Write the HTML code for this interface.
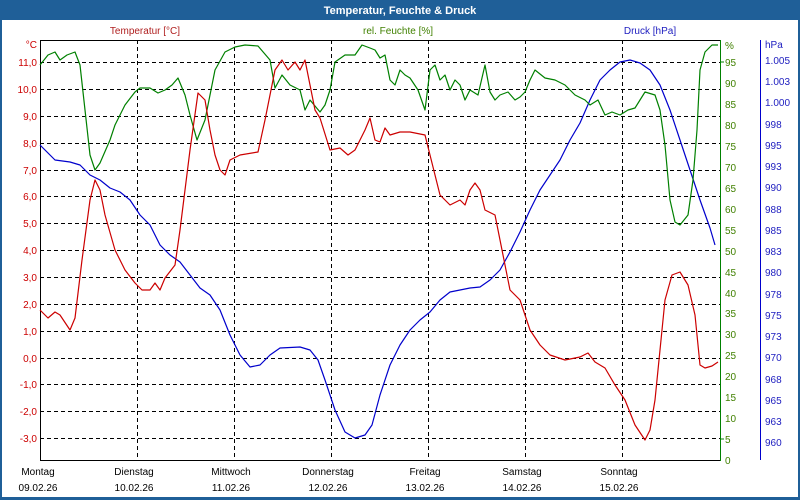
<!DOCTYPE html>
<html><head><meta charset="utf-8"><style>
html,body{margin:0;padding:0;background:#fff}
svg{display:block;font-family:"Liberation Sans","DejaVu Sans",sans-serif}
</style></head><body>
<svg width="800" height="500" viewBox="0 0 800 500" xmlns="http://www.w3.org/2000/svg">
<rect x="0" y="0" width="800" height="500" fill="#1f5f98"/>
<rect x="2" y="20" width="796" height="477" fill="#fff"/>
<text x="400" y="14" fill="#fff" font-size="11" font-weight="bold" text-anchor="middle">Temperatur, Feuchte &amp; Druck</text>
<text x="145" y="34" fill="#b02020" font-size="10" text-anchor="middle">Temperatur [°C]</text>
<text x="398" y="34" fill="#408000" font-size="10" text-anchor="middle">rel. Feuchte [%]</text>
<text x="650" y="34" fill="#2020c0" font-size="10" text-anchor="middle">Druck [hPa]</text>
<g stroke="#000" stroke-width="1" stroke-dasharray="4,3" fill="none">
<line x1="40" x2="720" y1="62.5" y2="62.5"/><line x1="40" x2="720" y1="89.5" y2="89.5"/><line x1="40" x2="720" y1="116.5" y2="116.5"/><line x1="40" x2="720" y1="143.5" y2="143.5"/><line x1="40" x2="720" y1="170.5" y2="170.5"/><line x1="40" x2="720" y1="196.5" y2="196.5"/><line x1="40" x2="720" y1="223.5" y2="223.5"/><line x1="40" x2="720" y1="250.5" y2="250.5"/><line x1="40" x2="720" y1="277.5" y2="277.5"/><line x1="40" x2="720" y1="304.5" y2="304.5"/><line x1="40" x2="720" y1="331.5" y2="331.5"/><line x1="40" x2="720" y1="358.5" y2="358.5"/><line x1="40" x2="720" y1="384.5" y2="384.5"/><line x1="40" x2="720" y1="411.5" y2="411.5"/><line x1="40" x2="720" y1="438.5" y2="438.5"/>
<line y1="40" y2="460" x1="137.5" x2="137.5"/><line y1="40" y2="460" x1="234.5" x2="234.5"/><line y1="40" y2="460" x1="331.5" x2="331.5"/><line y1="40" y2="460" x1="428.5" x2="428.5"/><line y1="40" y2="460" x1="525.5" x2="525.5"/><line y1="40" y2="460" x1="622.5" x2="622.5"/>
</g>
<g stroke="#000" stroke-width="1">
<line x1="40.5" y1="40" x2="40.5" y2="460"/><line x1="40" y1="40.5" x2="720" y2="40.5"/><line x1="40" y1="460.5" x2="720" y2="460.5"/>
</g>
<line x1="720.5" y1="40" x2="720.5" y2="461" stroke="#008000"/>
<line x1="760.5" y1="40" x2="760.5" y2="460" stroke="#0000cc"/>
<g fill="#cc0000" font-size="10" text-anchor="end">
<text x="37" y="48">°C</text>
<text x="37" y="66">11,0</text><text x="37" y="93">10,0</text><text x="37" y="120">9,0</text><text x="37" y="147">8,0</text><text x="37" y="174">7,0</text><text x="37" y="200">6,0</text><text x="37" y="227">5,0</text><text x="37" y="254">4,0</text><text x="37" y="281">3,0</text><text x="37" y="308">2,0</text><text x="37" y="335">1,0</text><text x="37" y="362">0,0</text><text x="37" y="388">-1,0</text><text x="37" y="415">-2,0</text><text x="37" y="442">-3,0</text>
</g>
<g fill="#408000" font-size="10">
<text x="725" y="49">%</text>
<text x="725" y="66">95</text><text x="725" y="87">90</text><text x="725" y="108">85</text><text x="725" y="129">80</text><text x="725" y="150">75</text><text x="725" y="171">70</text><text x="725" y="192">65</text><text x="725" y="213">60</text><text x="725" y="234">55</text><text x="725" y="255">50</text><text x="725" y="276">45</text><text x="725" y="297">40</text><text x="725" y="317">35</text><text x="725" y="338">30</text><text x="725" y="359">25</text><text x="725" y="380">20</text><text x="725" y="401">15</text><text x="725" y="422">10</text><text x="725" y="443">5</text><text x="725" y="464">0</text>
</g>
<g stroke="#008000"><line x1="720" x2="724" y1="62" y2="62"/><line x1="720" x2="724" y1="439" y2="439"/></g>
<g fill="#2020c0" font-size="10">
<text x="765" y="48">hPa</text>
<text x="765" y="64">1.005</text><text x="765" y="85">1.003</text><text x="765" y="106">1.000</text><text x="765" y="128">998</text><text x="765" y="149">995</text><text x="765" y="170">993</text><text x="765" y="191">990</text><text x="765" y="213">988</text><text x="765" y="234">985</text><text x="765" y="255">983</text><text x="765" y="276">980</text><text x="765" y="298">978</text><text x="765" y="319">975</text><text x="765" y="340">973</text><text x="765" y="361">970</text><text x="765" y="383">968</text><text x="765" y="404">965</text><text x="765" y="425">963</text><text x="765" y="446">960</text>
</g>
<g fill="#000" font-size="10" text-anchor="middle">
<text x="38" y="475">Montag</text><text x="38" y="491">09.02.26</text>
<text x="134" y="475">Dienstag</text><text x="134" y="491">10.02.26</text>
<text x="231" y="475">Mittwoch</text><text x="231" y="491">11.02.26</text>
<text x="328" y="475">Donnerstag</text><text x="328" y="491">12.02.26</text>
<text x="425" y="475">Freitag</text><text x="425" y="491">13.02.26</text>
<text x="522" y="475">Samstag</text><text x="522" y="491">14.02.26</text>
<text x="619" y="475">Sonntag</text><text x="619" y="491">15.02.26</text>
</g>
<g fill="none" stroke-width="1.2" stroke-linejoin="round">
<polyline stroke="#0000cc" points="40,145 50,155 55,160 70,162 80,165 90,175 100,180 110,188 120,192 130,200 140,215 150,225 160,245 170,255 180,262 190,275 200,288 210,295 220,310 230,335 240,355 250,367 260,365 270,355 280,348 300,347 310,350 318,360 325,380 335,410 345,432 355,438 365,435 372,425 380,395 390,365 400,345 410,330 420,320 430,312 440,300 450,292 460,290 470,288 480,287 490,280 500,270 510,252 520,232 530,210 540,190 550,175 560,160 570,140 580,123 590,100 600,80 610,70 620,62 630,60 640,63 650,70 660,85 670,110 680,140 690,170 700,200 710,228 715,245"/>
<polyline stroke="#008000" points="40,65 48,55 55,52 60,60 67,55 75,52 80,65 85,110 90,155 95,170 100,163 110,140 115,125 125,105 135,92 140,88 150,88 158,93 165,90 172,85 178,78 185,95 190,115 197,140 205,120 210,95 215,70 225,52 235,47 245,45 258,46 270,60 275,88 282,75 290,85 300,90 305,110 310,100 320,112 325,105 330,90 335,62 345,55 355,55 362,45 370,48 375,50 380,58 385,55 390,80 395,85 400,70 405,75 410,78 418,90 425,110 430,70 435,65 440,80 445,75 450,90 455,80 460,85 465,100 470,90 478,95 485,65 490,92 495,100 500,95 508,92 515,100 520,97 525,92 530,80 535,70 545,78 555,80 565,85 575,95 585,100 590,105 598,100 605,115 612,112 620,115 628,110 635,108 640,100 645,92 655,95 660,110 665,145 670,200 675,222 680,225 688,215 693,180 697,130 700,70 705,52 712,45 718,45"/>
<polyline stroke="#cc0000" points="40,310 48,318 55,312 60,315 70,330 75,318 82,260 90,200 95,180 100,190 105,215 115,250 125,270 135,283 142,290 150,290 155,283 160,290 165,278 175,265 180,230 190,150 198,93 205,100 210,130 215,155 220,170 225,175 230,160 240,155 258,152 265,120 275,70 282,60 288,70 295,62 300,70 305,60 310,85 315,110 320,118 330,150 340,148 348,155 355,150 365,130 370,118 375,140 380,142 385,128 390,135 400,132 410,132 425,135 430,155 440,195 450,205 460,200 465,205 470,190 475,183 480,190 485,210 495,215 500,240 510,290 520,300 530,330 540,345 550,355 565,360 580,357 588,353 595,362 605,368 615,385 625,400 635,425 645,440 650,430 655,400 665,300 672,275 680,272 688,285 695,315 700,365 705,368 712,366 718,362"/>
</g>
</svg>
</body></html>
